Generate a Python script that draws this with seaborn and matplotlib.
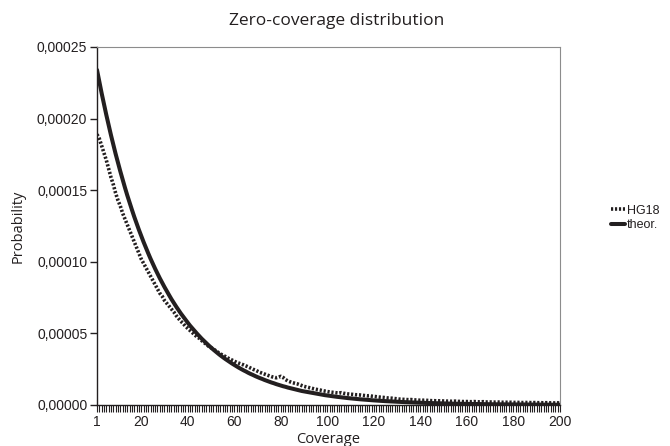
import matplotlib
matplotlib.use("Agg")
import matplotlib.pyplot as plt
import numpy as np
import pandas as pd
import seaborn as sns
from matplotlib.ticker import FixedLocator, FuncFormatter
from matplotlib.lines import Line2D

# Coverage categories 1..200
coverage = list(range(1, 201))

# Observed zero-coverage distribution (probability, in units of 1e-6)
hg18_e6 = [
    189, 186, 181, 176, 171, 165, 159, 154, 148, 143,
    139, 134, 130, 126, 122, 118, 114, 110, 106, 102,
    99, 96, 93, 90, 87, 84, 81, 78, 76, 73,
    71, 69, 67, 65, 62.5, 60.5, 58.5, 57, 55, 53.5,
    52, 50.5, 49, 47.5, 46.5, 45, 43.5, 42.5, 41, 40,
    39, 38, 36.8, 35.8, 34.8, 34, 33, 32.2, 31.4, 30.6,
    29.8, 29.2, 28.6, 28, 27.3, 26.6, 25.8, 25, 24.4, 23.6,
    22.8, 22.2, 21.6, 21, 20.4, 19.8, 19.4, 19.0, 19.4, 20.0,
    19.2, 17.8, 16.8, 16.2, 15.6, 15.2, 14.8, 14.2, 13.6, 13.0,
    12.6, 12.2, 11.8, 11.4, 11.0, 10.7, 10.4, 10.0, 9.7, 9.4,
    9.1, 8.9, 8.7, 8.5, 8.3, 8.6, 8.2, 7.9, 7.7, 7.5,
    7.4, 7.2, 7.1, 7.0, 6.8, 6.6, 6.4, 6.5, 6.2, 6.0,
    5.8, 5.6, 5.4, 5.3, 5.1, 4.9, 4.8, 4.7, 4.5, 4.3,
    4.1, 4.0, 3.9, 3.8, 3.7, 3.8, 3.6, 3.5, 3.4, 3.3,
    3.3, 3.4, 3.2, 3.1, 3.0, 3.0, 2.9, 2.9, 2.8, 2.8,
    2.7, 2.7, 2.6, 2.6, 2.7, 2.5, 2.5, 2.4, 2.4, 2.4,
    2.3, 2.3, 2.4, 2.3, 2.2, 2.2, 2.3, 2.1, 2.1, 2.1,
    2.0, 2.0, 2.1, 2.0, 1.9, 1.9, 1.9, 1.8, 1.9, 1.8,
    1.8, 1.8, 1.7, 1.7, 1.8, 1.7, 1.7, 1.6, 1.7, 1.6,
    1.6, 1.6, 1.5, 1.6, 1.5, 1.5, 1.5, 1.4, 1.5, 1.4,
]

# Theoretical distribution (probability, in units of 1e-6)
theor_e6 = [
    234.0, 225.7, 217.7, 210.0, 202.6, 195.5, 188.5, 181.9, 175.4, 169.2,
    163.3, 157.5, 151.9, 146.5, 141.4, 136.4, 131.5, 126.9, 122.4, 118.1,
    113.9, 109.9, 106.0, 102.2, 98.6, 95.1, 91.8, 88.5, 85.4, 82.4,
    79.5, 76.7, 73.9, 71.3, 68.8, 66.4, 64.0, 61.8, 59.6, 57.5,
    55.4, 53.5, 51.6, 49.8, 48.0, 46.3, 44.7, 43.1, 41.6, 40.1,
    38.7, 37.3, 36.0, 34.7, 33.5, 32.3, 31.2, 30.1, 29.0, 28.0,
    27.0, 26.0, 25.1, 24.2, 23.4, 22.5, 21.7, 21.0, 20.2, 19.5,
    18.8, 18.2, 17.5, 16.9, 16.3, 15.7, 15.2, 14.6, 14.1, 13.6,
    13.1, 12.7, 12.2, 11.8, 11.4, 11.0, 10.6, 10.2, 9.8, 9.5,
    9.16, 8.84, 8.53, 8.23, 7.93, 7.65, 7.38, 7.12, 6.87, 6.63,
    6.39, 6.17, 5.95, 5.74, 5.54, 5.34, 5.15, 4.97, 4.79, 4.62,
    4.46, 4.30, 4.15, 4.00, 3.86, 3.73, 3.59, 3.47, 3.34, 3.23,
    3.11, 3.00, 2.90, 2.79, 2.69, 2.60, 2.51, 2.42, 2.33, 2.25,
    2.17, 2.10, 2.02, 1.95, 1.88, 1.81, 1.75, 1.69, 1.63, 1.57,
    1.52, 1.46, 1.41, 1.36, 1.31, 1.27, 1.22, 1.18, 1.14, 1.10,
    1.06, 1.02, 0.98, 0.95, 0.92, 0.88, 0.85, 0.82, 0.79, 0.76,
    0.74, 0.71, 0.69, 0.66, 0.64, 0.62, 0.59, 0.57, 0.55, 0.53,
    0.52, 0.50, 0.48, 0.46, 0.45, 0.43, 0.41, 0.40, 0.39, 0.37,
    0.36, 0.35, 0.33, 0.32, 0.31, 0.30, 0.29, 0.28, 0.27, 0.26,
    0.25, 0.24, 0.23, 0.23, 0.22, 0.21, 0.20, 0.20, 0.19, 0.18,
]

x_tick_labels = [1, 20, 40, 60, 80, 100, 120, 140, 160, 180, 200]
y_ticks = [0.0, 0.00005, 0.0001, 0.00015, 0.0002, 0.00025]

df = pd.DataFrame({
    "Coverage": coverage * 2,
    "Probability": np.array(hg18_e6 + theor_e6) * 1e-6,
    "series": ["HG18"] * len(hg18_e6) + ["theor."] * len(theor_e6),
})

sns.set_theme(style="white")
plt.rcParams["font.family"] = ["Liberation Sans", "DejaVu Sans"]

INK = "#231f20"
DOTS = (0, (0.6, 0.5))

fig = plt.figure(figsize=(6.7, 4.46), dpi=100)
ax = fig.add_axes([97 / 670, 1 - 405 / 446, 463 / 670, 358 / 446])

sns.lineplot(data=df[df.series == "theor."], x="Coverage", y="Probability",
             ax=ax, color=INK, linewidth=2.9, legend=False)
sns.lineplot(data=df[df.series == "HG18"], x="Coverage", y="Probability",
             ax=ax, color=INK, linewidth=2.6, legend=False)
ax.lines[-1].set_linestyle(DOTS)
ax.lines[-1].set_dash_capstyle("butt")

ax.set_xlim(1, 200)
ax.set_ylim(0, 0.00025)

ax.xaxis.set_major_locator(FixedLocator(x_tick_labels))
ax.xaxis.set_minor_locator(FixedLocator(coverage))
ax.yaxis.set_major_locator(FixedLocator(y_ticks))
ax.yaxis.set_major_formatter(
    FuncFormatter(lambda v, _: f"{v:.5f}".replace(".", ",")))

ax.tick_params(axis="x", which="both", bottom=True, direction="out",
               length=5, width=0.8, color=INK, labelsize=10,
               labelcolor=INK, pad=2)
ax.tick_params(axis="y", which="major", left=True, direction="out",
               length=5, width=1.0, color=INK, labelsize=10,
               labelcolor=INK, pad=2)

for side in ("left", "bottom"):
    ax.spines[side].set_color(INK)
    ax.spines[side].set_linewidth(1.0)
for side in ("top", "right"):
    ax.spines[side].set_color("#8c8c8c")
    ax.spines[side].set_linewidth(0.8)

label_font = dict(family=["Open Sans", "DejaVu Sans"], size=10.5, color=INK)
ax.set_xlabel("Coverage", **label_font)
ax.set_ylabel("Probability", **label_font)
ax.xaxis.set_label_coords(0.5, -0.075)
ax.yaxis.set_label_coords(-0.155, 0.5)

fig.text(0.503, 0.953, "Zero-coverage distribution", ha="center",
         va="center", family=["Open Sans", "DejaVu Sans"], size=12.5,
         color=INK)

handles = [
    Line2D([], [], color=INK, linewidth=2.6, linestyle=DOTS,
           dash_capstyle="butt"),
    Line2D([], [], color=INK, linewidth=2.9),
]
fig.legend(handles, ["HG18", "theor."], loc="center left",
           bbox_to_anchor=(600 / 670, 1 - 218 / 446), frameon=False,
           handlelength=1.1, handletextpad=0.15, labelspacing=0.2,
           prop=dict(family=["Liberation Sans", "DejaVu Sans"], size=9),
           labelcolor=INK)

fig.savefig("out.png", dpi=100)
